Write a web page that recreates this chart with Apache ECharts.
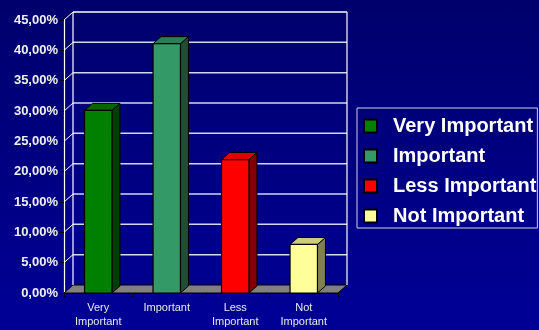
<!DOCTYPE html>
<html>
<head>
<meta charset="utf-8">
<script src="https://cdn.jsdelivr.net/npm/echarts@6/dist/echarts.min.js"></script>
<style>
html,body{margin:0;padding:0;}
#chart{width:539px;height:330px;background:linear-gradient(to bottom,#00006c,#000096);}
</style>
</head>
<body>
<div id="chart"></div>
<script>
var categories = ['Very Important', 'Important', 'Less Important', 'Not Important'];
var axisLabels = ['Very\nImportant', 'Important', 'Less\nImportant', 'Not\nImportant'];
var values = [30.1, 41.1, 22.0, 8.0];
var yMin = 0, yMax = 45, yStep = 5;

var frontColors = ['#008000', '#339966', '#ff0000', '#ffff99'];
var topColors = ['#006600', '#2e7d55', '#e00000', '#cccc7a'];
var sideColors = ['#003f00', '#1f4d36', '#800000', '#808050'];

var WDX = 9, WDY = -8;   // wall depth
var BDX = 8, BDY = -7;   // bar depth

var chart = echarts.init(document.getElementById('chart'), null, {renderer: 'canvas'});

function wallRender(params, api) {
  var cs = params.coordSys;
  var x0 = cs.x, x1 = cs.x + cs.width;
  var children = [];
  var y0 = api.coord([0, yMin])[1];
  var yTop = api.coord([0, yMax])[1];
  children.push({type: 'polygon', shape: {points: [[x0, y0], [x1, y0], [x1 + WDX, y0 + WDY], [x0 + WDX, y0 + WDY]]},
    style: {fill: '#808080', stroke: '#000', lineWidth: 1}});
  for (var v = yMin + yStep; v <= yMax; v += yStep) {
    var y = api.coord([0, v])[1];
    children.push({type: 'line', shape: {x1: x0 + WDX, y1: y + WDY, x2: x1 + WDX, y2: y + WDY},
      style: {stroke: v === yMax ? '#ffffff' : '#d4d4f4', lineWidth: 1.5}});
    children.push({type: 'line', shape: {x1: x0, y1: y, x2: x0 + WDX, y2: y + WDY},
      style: {stroke: '#ffffff', lineWidth: 1}});
  }
  children.push({type: 'line', shape: {x1: x0 + WDX, y1: y0 + WDY, x2: x0 + WDX, y2: yTop + WDY}, style: {stroke: '#ffffff', lineWidth: 1.2}});
  children.push({type: 'line', shape: {x1: x1 + WDX, y1: y0 + WDY, x2: x1 + WDX, y2: yTop + WDY}, style: {stroke: '#ffffff', lineWidth: 1.2}});
  return {type: 'group', children: children};
}

function barRender(params, api) {
  var i = api.value(0);
  var top = api.coord([i, api.value(1)]);
  var base = api.coord([i, 0]);
  var w = api.size([1, 0])[0] * 0.4;
  var xl = top[0] - w / 2, xr = top[0] + w / 2;
  var yt = top[1], yb = base[1];
  var k = params.seriesIndex - 1;
  return {type: 'group', children: [
    {type: 'polygon', shape: {points: [[xr, yt], [xr + BDX, yt + BDY], [xr + BDX, yb + BDY], [xr, yb]]},
      style: {fill: sideColors[k], stroke: '#000', lineWidth: 1}},
    {type: 'polygon', shape: {points: [[xl, yt], [xr, yt], [xr + BDX, yt + BDY], [xl + BDX, yt + BDY]]},
      style: {fill: topColors[k], stroke: '#000', lineWidth: 1}},
    {type: 'rect', shape: {x: xl, y: yt, width: w, height: yb - yt},
      style: {fill: frontColors[k], stroke: '#000', lineWidth: 1.2}}
  ]};
}

var series = [{
  type: 'custom', name: 'walls', silent: true, z: 1,
  renderItem: wallRender, data: [[0, 0]], encode: {x: 0, y: 1}
}];
categories.forEach(function (c, i) {
  series.push({
    type: 'custom', name: c, z: 5,
    itemStyle: {color: frontColors[i], borderColor: '#000', borderWidth: 1},
    renderItem: barRender,
    data: [[i, values[i]]],
    encode: {x: 0, y: 1}
  });
});

chart.setOption({
  animation: false,
  grid: {left: 64, right: 201, top: 20, bottom: 37},
  xAxis: {
    type: 'category', data: axisLabels,
    axisLine: {lineStyle: {color: '#000', width: 1.2}},
    axisTick: {show: true, length: 4, lineStyle: {color: '#000'}},
    axisLabel: {color: '#e8e8e8', fontSize: 11, fontFamily: 'Liberation Sans, Arial, sans-serif', lineHeight: 14, margin: 8, interval: 0},
    splitLine: {show: false}
  },
  yAxis: {
    type: 'value', min: yMin, max: yMax, interval: yStep,
    axisLine: {show: true, lineStyle: {color: '#ffffff', width: 1.2}},
    axisTick: {show: true, length: 4, lineStyle: {color: '#000'}},
    axisLabel: {color: '#f0f0f0', fontSize: 13, fontWeight: 'bold', fontFamily: 'Liberation Sans, Arial, sans-serif', margin: 6,
      formatter: function (v) { return v.toFixed(2).replace('.', ',') + '%'; }},
    splitLine: {show: false}
  },
  legend: {
    data: categories,
    orient: 'vertical',
    left: 357, top: 108,
    padding: [8, 1, 2, 6],
    borderColor: '#cfcfe0', borderWidth: 1,
    icon: 'rect', itemWidth: 13, itemHeight: 13, itemGap: 10,
    textStyle: {color: '#ffffff', fontSize: 20, fontWeight: 'bold', fontFamily: 'Liberation Sans, Arial, sans-serif', lineHeight: 20, padding: [0, 0, 0, 11]}
  },
  series: series
});
</script>
</body>
</html>
